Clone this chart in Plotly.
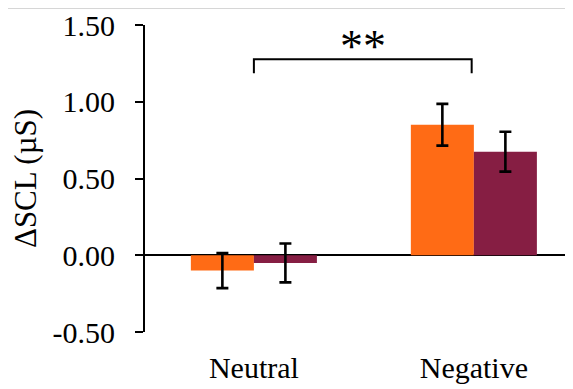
import plotly.graph_objects as go

categories = ["Neutral", "Negative"]
series_a = [-0.10, 0.85]
series_a_err = [0.114, 0.136]
series_b = [-0.05, 0.675]
series_b_err = [0.127, 0.13]
y_tickvals = [-0.5, 0.0, 0.5, 1.0, 1.5]
y_ticktext = ["-0.50", "0.00", "0.50", "1.00", "1.50"]
y_title = "ΔSCL (µS)"
sig_label = "**"

FONT = "Liberation Serif"
err_style = dict(type="data", visible=True, color="black", thickness=2.6, width=6)

fig = go.Figure()
fig.add_trace(go.Bar(x=categories, y=series_a, marker_color="#FF6B15",
                     marker_line_width=0, error_y=dict(array=series_a_err, **err_style)))
fig.add_trace(go.Bar(x=categories, y=series_b, marker_color="#861E43",
                     marker_line_width=0, error_y=dict(array=series_b_err, **err_style)))

fig.update_layout(
    width=573, height=389,
    margin=dict(l=137, r=0, t=17, b=65, autoexpand=False),
    paper_bgcolor="white", plot_bgcolor="white",
    barmode="group", bargap=0.427, bargroupgap=0,
    showlegend=False,
    font=dict(family=FONT, size=30, color="black"),
)
fig.update_xaxes(range=[-0.495, 1.487], showgrid=False, showline=False, zeroline=False,
                 ticks="", ticklabelstandoff=15, tickfont=dict(size=30), automargin=False)
fig.update_yaxes(range=[-0.5, 1.5], tickvals=y_tickvals, ticktext=y_ticktext,
                 showgrid=False, showline=True, linecolor="black", linewidth=2,
                 ticks="outside", ticklen=8, tickwidth=2, tickcolor="black",
                 zeroline=True, zerolinecolor="black", zerolinewidth=2,
                 ticklabelstandoff=14, tickfont=dict(size=30), automargin=False,
                 title=dict(text=y_title, font=dict(size=31), standoff=9))

# significance bracket
fig.add_shape(type="path", xref="x", yref="y",
              path="M 0,1.185 L 0,1.277 L 0.99,1.277 L 0.99,1.185",
              line=dict(color="black", width=2))
fig.add_annotation(x=0.495, y=1.36, xref="x", yref="y", text=sig_label,
                   showarrow=False, font=dict(family=FONT, size=46, color="black"),
                   yanchor="middle")
# thin grey line at top
fig.add_shape(type="line", xref="paper", yref="paper", x0=-0.4, x1=1.0,
              y0=1.054, y1=1.054, line=dict(color="#d3d3d3", width=1))

fig.write_html("out.html")
